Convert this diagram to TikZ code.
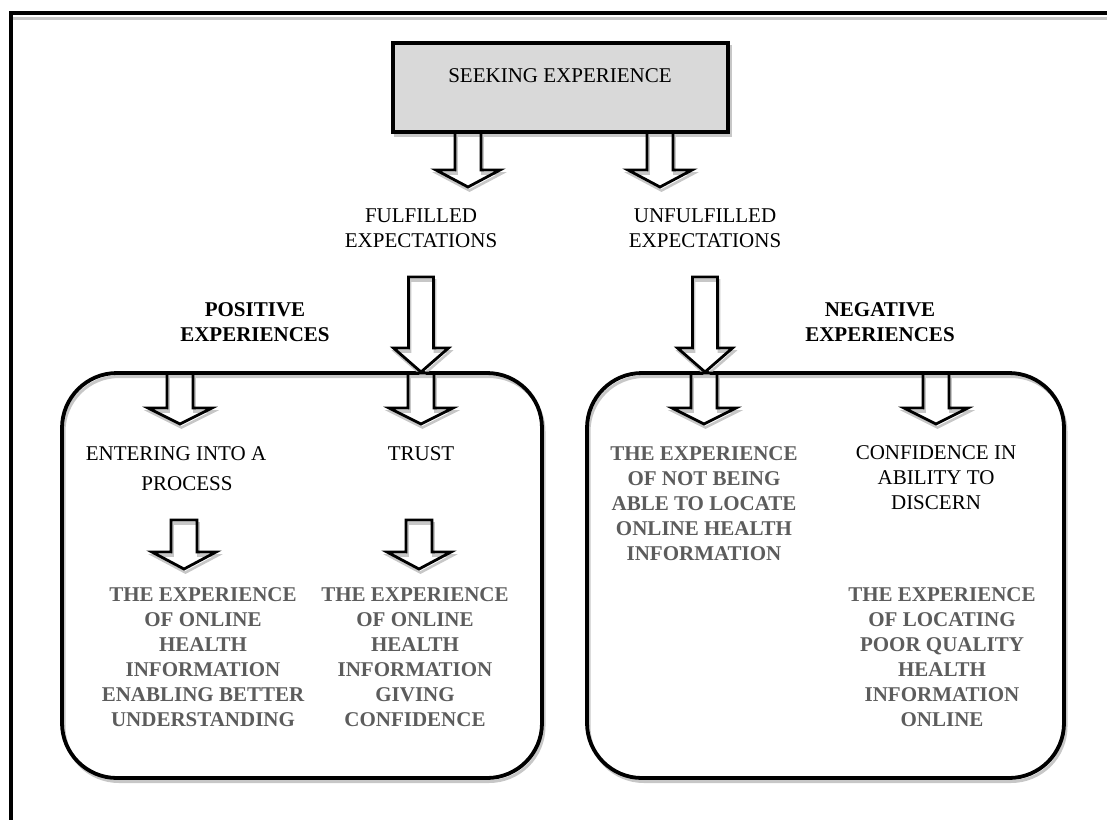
\documentclass[tikz,border=0pt]{standalone}
\usepackage{fontspec}
\setmainfont{Liberation Serif}
\begin{document}
\begin{tikzpicture}[x=1pt,y=-1pt,
  txt/.style={align=center,inner sep=0pt,font=\fontsize{21}{25}\selectfont},
  head/.style={txt,font=\fontsize{21}{25}\selectfont\bfseries},
  greytxt/.style={txt,text=black!64,font=\fontsize{21}{25}\selectfont\bfseries},
  outline/.style={draw=black,line width=3.8pt},
  shade/.style={draw=black!22,line width=3pt},
  arrline/.style={draw=black,line width=2.8pt,line join=miter},
  arrshade/.style={draw=black!22,line width=2.6pt},
]
% page size
\useasboundingbox (0,0) rectangle (1107,820);

% block arrow: centre x, top y, head start y, tip y, shaft half width, head half width
\newcommand{\blockarrow}[6]{%
  \draw[arrshade,shift={(1.5,3.5)}] ({#1-#5},#2) -- ({#1-#5},#3) -- ({#1-#6},#3) -- (#1,#4)
     -- ({#1+#6},#3) -- ({#1+#5},#3) -- ({#1+#5},#2) -- cycle;
  \draw[arrline] ({#1-#5},#2) -- ({#1-#5},#3) -- ({#1-#6},#3) -- (#1,#4)
     -- ({#1+#6},#3) -- ({#1+#5},#3) -- ({#1+#5},#2) -- cycle;
}

% page frame (top and left rules)
\draw[shade] (13,18.5) -- (1107,18.5);
\draw[line width=4pt] (9,13) -- (1107,13);
\draw[line width=4pt] (11,11) -- (11,820);

% top box
\draw[shade,shift={(2,3.5)}] (393,43) rectangle (728,132);
\node[outline,fill=black!15,minimum width=335pt,minimum height=89pt,inner sep=0pt] (seek) at (560.5,87.5) {};
\node[txt] (seektxt) at (560,76) {SEEKING EXPERIENCE};

% the two grouping boxes
\draw[shade,shift={(2,3.5)}] (62,373) [rounded corners=55pt] rectangle (542,778);
\draw[shade,shift={(2,3.5)}] (587,373) [rounded corners=55pt] rectangle (1064,778);
\node[outline,rounded corners=55pt,minimum width=480pt,minimum height=405pt,inner sep=0pt] (posbox) at (302,575.5) {};
\node[outline,rounded corners=55pt,minimum width=477pt,minimum height=405pt,inner sep=0pt] (negbox) at (825.5,575.5) {};

% expectations
\node[txt] (ful) at (421,228) {FULFILLED\\EXPECTATIONS};
\node[txt] (unful) at (705,228) {UNFULFILLED\\EXPECTATIONS};
\blockarrow{468}{132}{170}{187}{13}{32}
\blockarrow{660}{132}{170}{187}{13}{32}

% group labels
\node[head] (pos) at (255,322) {POSITIVE\\EXPERIENCES};
\node[head] (neg) at (880,322) {NEGATIVE\\EXPERIENCES};
\blockarrow{421}{277}{348}{372}{12.5}{27.5}
\blockarrow{705}{277}{348}{372}{12.5}{27.5}

% positive experiences
\blockarrow{180}{373}{408}{424}{13}{32}
\blockarrow{421}{373}{408}{424}{13}{32}
\node[txt] (enter) at (187,469) {ENTERING INTO A\hspace*{22pt}\\[5pt]PROCESS};
\node[txt] (trust) at (421,454) {TRUST};
\blockarrow{184}{520}{552}{569}{13}{32}
\blockarrow{419}{520}{552}{569}{13}{32}
\node[greytxt] (underst) at (203,657.5) {THE EXPERIENCE\\OF ONLINE\\HEALTH\\INFORMATION\\ENABLING BETTER\\UNDERSTANDING};
\node[greytxt] (confid) at (415,657.5) {THE EXPERIENCE\\OF ONLINE\\HEALTH\\INFORMATION\\GIVING\\CONFIDENCE};

% negative experiences
\blockarrow{704}{373}{408}{424}{13}{32}
\blockarrow{936}{373}{408}{424}{13}{32}
\node[greytxt] (notloc) at (704,504) {THE EXPERIENCE\\OF NOT BEING\\ABLE TO LOCATE\\ONLINE HEALTH\\INFORMATION};
\node[txt] (discern) at (936,478) {CONFIDENCE IN\\ABILITY TO\\DISCERN};
\node[greytxt] (poor) at (942,657.5) {THE EXPERIENCE\\OF LOCATING\\POOR QUALITY\\HEALTH\\INFORMATION\\ONLINE};
\end{tikzpicture}
\end{document}
